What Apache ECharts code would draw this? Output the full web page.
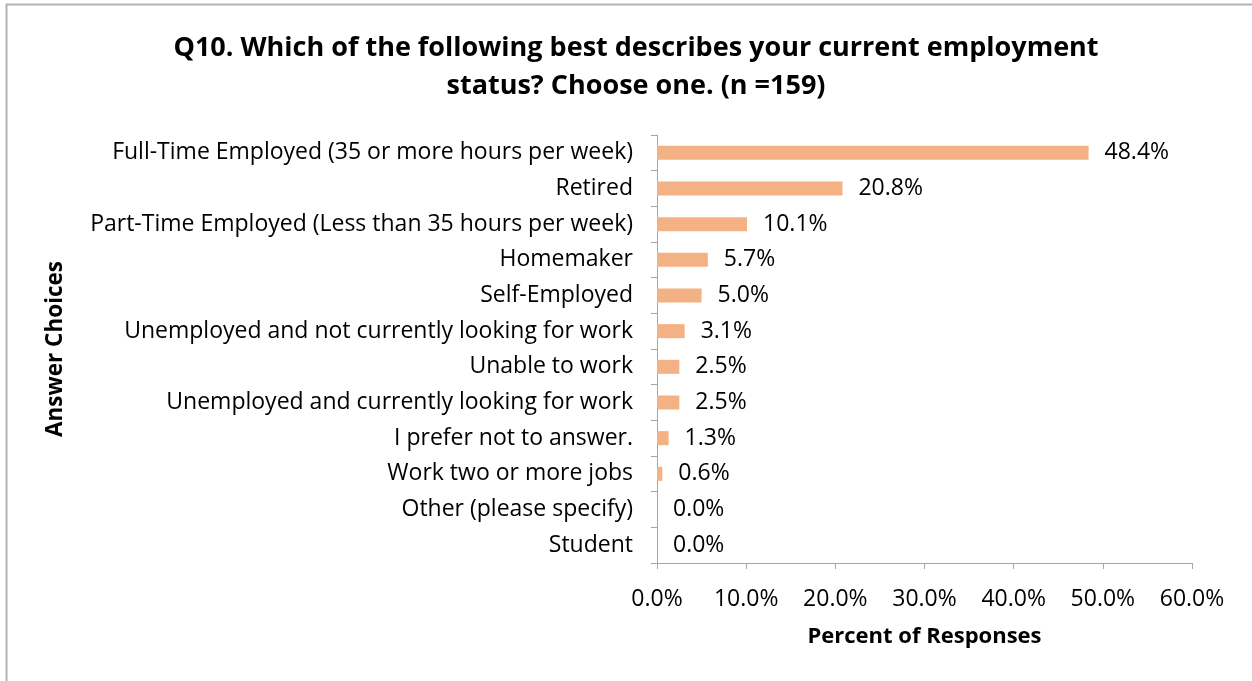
<!DOCTYPE html>
<html><head><meta charset="utf-8">
<script src="https://cdn.jsdelivr.net/npm/echarts@6/dist/echarts.min.js"></script>
<style>html,body{margin:0;padding:0;background:#fff}#c{width:1252px;height:681px}</style>
</head><body><div id="c"></div>
<script>
const categories = [
  "Full-Time Employed (35 or more hours per week)",
  "Retired",
  "Part-Time Employed (Less than 35 hours per week)",
  "Homemaker",
  "Self-Employed",
  "Unemployed and not currently looking for work",
  "Unable to work",
  "Unemployed and currently looking for work",
  "I prefer not to answer.",
  "Work two or more jobs",
  "Other (please specify)",
  "Student"
];
const values = [48.4, 20.8, 10.1, 5.7, 5.0, 3.1, 2.5, 2.5, 1.3, 0.6, 0.0, 0.0];
const titleText = "Q10. Which of the following best describes your current employment\nstatus? Choose one. (n =159)";
const xName = "Percent of Responses";
const yName = "Answer Choices";

const FONT = "Open Sans";
const chart = echarts.init(document.getElementById('c'), null, {renderer: 'canvas'});
chart.setOption({
  animation: false,
  backgroundColor: '#fff',
  graphic: [{
    type: 'rect', shape: {x: 6.5, y: 4.5, width: 1400, height: 1000},
    style: {fill: 'none', stroke: '#b3b3b3', lineWidth: 2}, silent: true
  }],
  title: {
    text: titleText, left: 631, top: 24, textAlign: 'center',
    textStyle: {fontFamily: FONT, fontWeight: 'bold', fontSize: 27, lineHeight: 38, color: '#000'}
  },
  grid: {left: 657, right: 60, top: 135, bottom: 118, containLabel: false},
  xAxis: {
    type: 'value', min: 0, max: 60, interval: 10,
    name: xName, nameLocation: 'middle', nameGap: 63,
    nameTextStyle: {fontFamily: FONT, fontWeight: 'bold', fontSize: 22, color: '#000'},
    axisLine: {show: true, lineStyle: {color: '#a6a6a6', width: 1}},
    axisTick: {show: true, length: 6, lineStyle: {color: '#a6a6a6'}},
    splitLine: {show: false},
    axisLabel: {fontFamily: FONT, fontSize: 23, color: '#000', margin: 25,
      formatter: v => v.toFixed(1) + '%'}
  },
  yAxis: {
    type: 'category', data: categories, inverse: true,
    name: yName, nameLocation: 'middle', nameGap: 590, nameRotate: 90,
    nameTextStyle: {fontFamily: FONT, fontWeight: 'bold', fontSize: 22.5, color: '#000'},
    axisLine: {show: true, lineStyle: {color: '#a6a6a6', width: 1}},
    axisTick: {show: true, length: 6, alignWithLabel: false, lineStyle: {color: '#a6a6a6'}},
    axisLabel: {fontFamily: FONT, fontSize: 23, color: '#000', margin: 24}
  },
  series: [{
    type: 'bar', data: values, barWidth: 14,
    itemStyle: {color: '#f4b183'},
    label: {show: true, position: 'right', distance: 16,
      fontFamily: FONT, fontSize: 23, color: '#000',
      formatter: p => p.value.toFixed(1) + '%'}
  }]
});
</script></body></html>
